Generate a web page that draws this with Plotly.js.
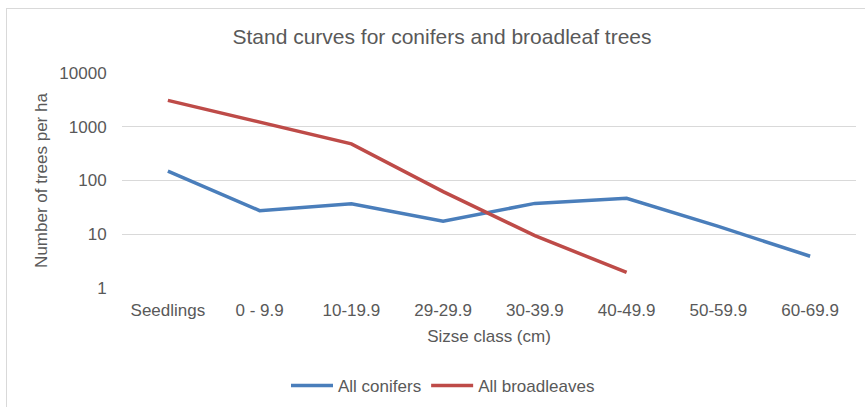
<!DOCTYPE html>
<html>
<head>
<meta charset="utf-8">
<script src="https://cdn.plot.ly/plotly-3.0.1.min.js"></script>
<style>
  html, body { margin: 0; padding: 0; background: #ffffff; overflow: hidden; }
  #wrap { position: relative; width: 865px; height: 407px; overflow: hidden; }
  #frame { position: absolute; left: 6px; top: 8px; width: 880px; height: 420px;
           border: 1.5px solid #d9d9d9; box-sizing: border-box; pointer-events: none; }
  #chart { position: absolute; left: 0; top: 0; width: 865px; height: 407px; }
</style>
</head>
<body>
<div id="wrap">
  <div id="chart"></div>
  <div id="frame"></div>
</div>
<script>
// Data
const sizeClasses = ["Seedlings", "0 - 9.9", "10-19.9", "29-29.9", "30-39.9", "40-49.9", "50-59.9", "60-69.9"];
const conifers = [150, 27.5, 37, 17.5, 37.5, 46.5, 14, 3.9];
const broadleavesClasses = ["Seedlings", "0 - 9.9", "10-19.9", "29-29.9", "30-39.9", "40-49.9"];
const broadleaves = [3100, 1230, 480, 62, 9.4, 1.95];
const yTickVals = [1, 10, 100, 1000, 10000];
const yTickText = ["1", "10", "100", "1000", "10000"];

const FONT = "Liberation Sans, Arial, sans-serif";
const GREY = "#595959";

const traces = [
  {
    x: sizeClasses, y: conifers, name: "All conifers", type: "scatter", mode: "lines",
    line: { color: "#4a7ebb", width: 3.5 }
  },
  {
    x: broadleavesClasses, y: broadleaves, name: "All broadleaves", type: "scatter", mode: "lines",
    line: { color: "#be4b48", width: 3.5 }
  }
];

const layout = {
  width: 865, height: 407,
  margin: { l: 122, r: 9, t: 73, b: 119, pad: 0 },
  paper_bgcolor: "#ffffff", plot_bgcolor: "#ffffff",
  font: { family: FONT, size: 17, color: GREY },
  title: {
    text: "Stand curves for conifers and broadleaf trees",
    font: { family: FONT, size: 21, color: GREY },
    xref: "container", x: 442 / 865, xanchor: "center",
    yref: "container", y: 1 - 37 / 407, yanchor: "middle"
  },
  xaxis: {
    type: "category",
    categoryorder: "array", categoryarray: sizeClasses,
    range: [-0.5, 7.5],
    showgrid: false, zeroline: false, showline: false,
    ticks: "outside", ticklen: 7, tickcolor: "rgba(0,0,0,0)",
    tickfont: { family: FONT, size: 17, color: GREY },
    title: { text: "Sizse class (cm)", font: { family: FONT, size: 17, color: GREY }, standoff: 10 },
    fixedrange: true
  },
  yaxis: {
    type: "log",
    range: [0, 4],
    tickmode: "array", tickvals: yTickVals, ticktext: yTickText,
    showgrid: true, gridcolor: "#d9d9d9", gridwidth: 1.3,
    zeroline: false, showline: false,
    ticks: "outside", ticklen: 11, tickcolor: "rgba(0,0,0,0)",
    tickfont: { family: FONT, size: 17, color: GREY },
    title: { text: "Number of trees per ha", font: { family: FONT, size: 17, color: GREY }, standoff: 7 },
    fixedrange: true
  },
  showlegend: true,
  legend: {
    orientation: "h",
    xref: "container", x: 443 / 865, xanchor: "center",
    yref: "container", y: 1 - 386 / 407, yanchor: "middle",
    font: { family: FONT, size: 17, color: GREY },
    bgcolor: "rgba(0,0,0,0)",
    itemwidth: 42
  }
};

Plotly.newPlot("chart", traces, layout, { displayModeBar: false, staticPlot: true });
</script>
</body>
</html>
